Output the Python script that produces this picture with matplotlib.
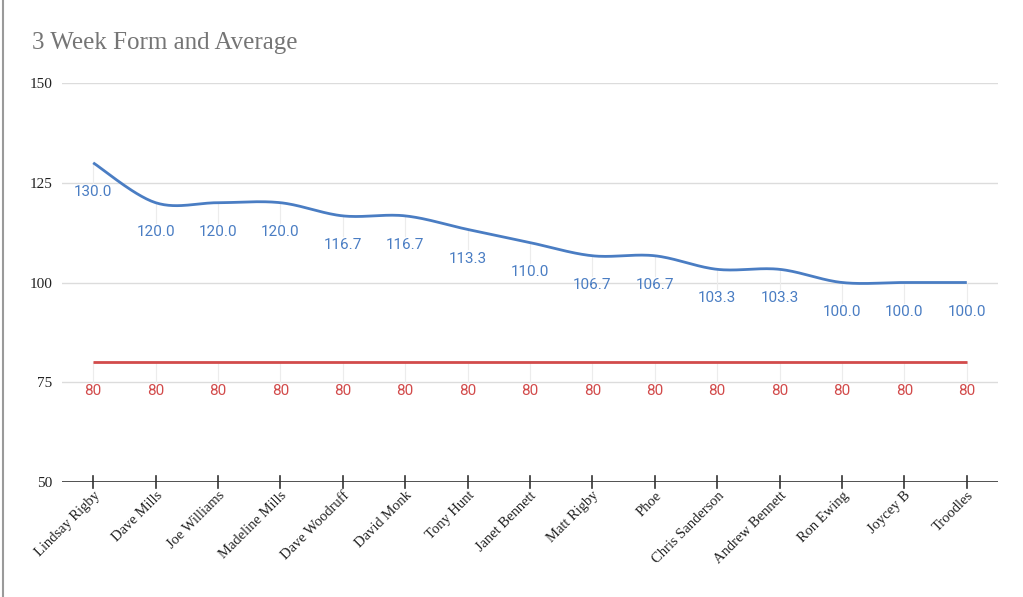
import numpy as np
import matplotlib
matplotlib.use("Agg")
import matplotlib.pyplot as plt
from matplotlib.lines import Line2D

# data
names = ["Lindsay Rigby", "Dave Mills", "Joe Williams", "Madeline Mills",
         "Dave Woodruff", "David Monk", "Tony Hunt", "Janet Bennett",
         "Matt Rigby", "Phoe", "Chris Sanderson", "Andrew Bennett",
         "Ron Ewing", "Joycey B", "Troodles"]
form = [130.0, 120.0, 120.0, 120.0, 116.7, 116.7, 113.3, 110.0,
        106.7, 106.7, 103.3, 103.3, 100.0, 100.0, 100.0]
average = [80] * len(names)
yticks = [50, 75, 100, 125, 150]

blue = "#4a7dc3"
red = "#d24b4b"
serif = "Liberation Serif"
sans = "Roboto"


def smooth(xs, ys, n=30):
    # catmull-rom drawn as cubic bezier segments (like a "function" curve)
    xs = np.asarray(xs, float)
    ys = np.asarray(ys, float)
    px = np.concatenate([[xs[0]], xs, [xs[-1]]])
    py = np.concatenate([[ys[0]], ys, [ys[-1]]])
    outx, outy = [], []
    t = np.linspace(0, 1, n)
    for i in range(1, len(px) - 2):
        p0 = np.array([px[i], py[i]])
        p3 = np.array([px[i + 1], py[i + 1]])
        c1 = p0 + (np.array([px[i + 1], py[i + 1]]) - np.array([px[i - 1], py[i - 1]])) / 6
        c2 = p3 - (np.array([px[i + 2], py[i + 2]]) - np.array([px[i], py[i]])) / 6
        b = ((1 - t) ** 3)[:, None] * p0 + (3 * (1 - t) ** 2 * t)[:, None] * c1 \
            + (3 * (1 - t) * t ** 2)[:, None] * c2 + (t ** 3)[:, None] * p3
        outx.extend(b[:, 0])
        outy.extend(b[:, 1])
    return outx, outy


fig = plt.figure(figsize=(10.23, 5.97), dpi=100)
ax = fig.add_axes([62 / 1023, 1 - 482 / 597, (998 - 62) / 1023, (482 - 83) / 597])

x = np.arange(len(names))
ax.set_xlim(-0.5, len(names) - 0.5)
ax.set_ylim(50, 150)

# horizontal gridlines
for v in yticks[1:]:
    ax.axhline(v, color="#dcdcdc", lw=1.0, zorder=0)
ax.axhline(50, color="#333333", lw=1.2, zorder=3)

# little stems from each point down toward its label
px_per_unit = (482 - 83) / 100.0
stem = 20 / px_per_unit
for i in x:
    ax.plot([i, i], [form[i] - stem, form[i]], color="#ececec", lw=0.8, zorder=1)
    ax.plot([i, i], [average[i] - stem, average[i]], color="#ececec", lw=0.8, zorder=1)

sx, sy = smooth(x, form)
ax.plot(sx, sy, color=blue, lw=2.0, zorder=4, solid_capstyle="butt")
ax.plot(x, average, color=red, lw=2.0, zorder=4, solid_capstyle="butt")

for i in x:
    ax.annotate(f"{form[i]:.1f}", (i, form[i]), xytext=(0, -21), textcoords="offset points",
                ha="center", va="center", color=blue, fontsize=11, family=sans, zorder=5)
    ax.annotate(f"{average[i]}", (i, average[i]), xytext=(0, -21), textcoords="offset points",
                ha="center", va="center", color=red, fontsize=11, family=sans, zorder=5)

for s in ax.spines.values():
    s.set_visible(False)

ax.set_yticks(yticks)
ax.set_yticklabels([str(v) for v in yticks], family=serif, fontsize=11, color="#222222")
ax.tick_params(axis="y", length=0, pad=7)

ax.set_xticks(x)
ax.set_xticklabels(names, rotation=45, ha="right", rotation_mode="anchor",
                   family=serif, fontsize=10.5, color="#222222")
ax.tick_params(axis="x", length=0, pad=5)
# tick marks crossing the baseline
for i in x:
    ax.plot([i, i], [50 - 6 / px_per_unit, 50 + 6 / px_per_unit], color="#333333",
            lw=1.2, zorder=3, clip_on=False)

fig.text(32 / 1023, 1 - 43 / 597, "3 Week Form and Average", family=serif,
         fontsize=18, color="#757575", ha="left", va="center")

# grey border at the left edge of the screenshot
fig.add_artist(Line2D([2.5 / 1023, 2.5 / 1023], [0, 1], color="#9a9a9a", lw=1.5,
                      transform=fig.transFigure))

fig.savefig("out.png", dpi=100)
